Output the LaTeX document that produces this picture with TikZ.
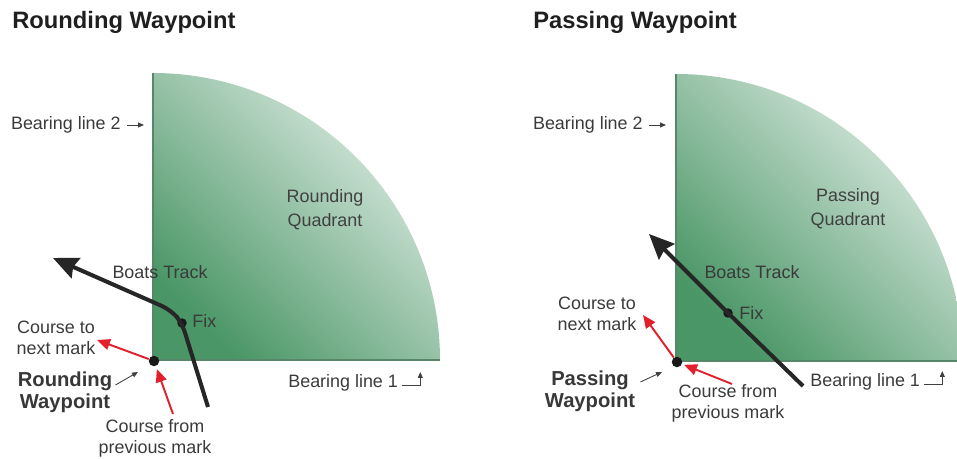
\documentclass[tikz,border=0pt]{standalone}
\usepackage{fontspec}
\setmainfont{Liberation Sans}
\usetikzlibrary{arrows.meta,positioning,calc}
\definecolor{quaddark}{RGB}{74,150,102}
\definecolor{quadmid}{RGB}{172,212,188}
\definecolor{quadlight}{RGB}{226,238,231}
\definecolor{quadedge}{RGB}{88,134,104}
\definecolor{txtgray}{RGB}{58,58,58}
\definecolor{markred}{RGB}{226,32,44}

\begin{document}
\begin{tikzpicture}[x=0.02cm, y=-0.02cm,
  title/.style={font=\fontsize{13.5}{16}\selectfont\bfseries, text=black!88, inner sep=0pt},
  lab/.style={font=\fontsize{10.2}{12}\selectfont, text=txtgray, inner sep=0pt, align=center},
  quadlab/.style={lab, font=\fontsize{10.2}{13.6}\selectfont, text=black!75},
  wplab/.style={font=\fontsize{11.5}{12.5}\selectfont\bfseries, text=black!78, inner sep=0pt, align=center},
  quad/.style={bottom color=quaddark, middle color=quadmid, top color=quadlight, shading angle=-45},
  track/.style={line width=2.3pt, black!85, line join=round},
  trackarr/.style={track, -{Stealth[length=5mm, width=4.4mm, inset=0.6mm]}},
  course/.style={line width=1.1pt, markred, -{Triangle[length=2.6mm, width=2.2mm]}},
  ptr/.style={line width=0.5pt, black!75, -{Triangle[length=1.2mm, width=1mm]}},
  wpdot/.style={circle, fill=black!90, inner sep=0pt, minimum size=2.1mm},
  fixdot/.style={circle, fill=black!90, inner sep=0pt, minimum size=1.9mm}]
  \useasboundingbox (0,0) rectangle (957,459);
  % (a) rounding waypoint
  \node[title, anchor=base west] (titleR) at (12,29) {Rounding Waypoint};
  \shade[quad] (153,360) -- (153,73) arc[start angle=-90, end angle=0, radius=287] -- cycle;
  \draw[quadedge, line width=0.7pt] (153,73) -- (153,360) -- (440,360);
  \node[lab, anchor=east] (bl2R) at (121,125) {Bearing line 2};
  \draw[ptr] ($(bl2R.east)+(6,0)$) -- ++(17,0);
  \node[quadlab] (quadR) at (325,210) {Rounding\\Quadrant};
  \node[lab, anchor=west] (bl1R) at (288,383) {Bearing line 1};
  \draw[ptr] ($(bl1R.east)+(4,2)$) -| ($(bl1R.east)+(22,-11)$);
  \node[fixdot] (fixR) at (182,323) {};
  \coordinate (trkRs) at (208,407);
  \coordinate (bendR) at (171,310);
  \coordinate (trkRe) at (53,258);
  \draw[trackarr, rounded corners=2mm] (trkRs) -- (fixR.center) -- (bendR) -- (trkRe);
  \node[lab] (trackRlab) at (160,272) {Boats Track};
  \node[lab, anchor=west] (fixRlab) at (192,321) {Fix};
  \node[wpdot] (wpR) at (154,361) {};
  \coordinate (nextR) at (97,340);
  \coordinate (prevR) at (173,414);
  \draw[course] (wpR) -- (nextR);
  \draw[course, shorten >=0.6mm] (prevR) -- (wpR);
  \node[lab] (nextRlab) at (56,338) {Course to\\next mark};
  \node[wplab] (wpRlab) at (65,392) {Rounding\\Waypoint};
  \coordinate (ptrR) at (138,372);
  \draw[ptr] ($(wpRlab.east)+(3,-7)$) -- (ptrR);
  \node[lab] (prevRlab) at (155,438) {Course from\\previous mark};
  % (b) passing waypoint
  \node[title, anchor=base west] (titleP) at (533,29) {Passing Waypoint};
  \shade[quad] (676,361) -- (676,74) arc[start angle=-90, end angle=0, radius=287] -- cycle;
  \draw[quadedge, line width=0.7pt] (676,74) -- (676,361) -- (963,361);
  \node[lab, anchor=east] (bl2P) at (643,125) {Bearing line 2};
  \draw[ptr] ($(bl2P.east)+(6,0)$) -- ++(17,0);
  \node[quadlab] (quadP) at (848,209) {Passing\\Quadrant};
  \node[lab, anchor=west] (bl1P) at (810,382) {Bearing line 1};
  \draw[ptr] ($(bl1P.east)+(4,2)$) -| ($(bl1P.east)+(22,-11)$);
  \node[fixdot] (fixP) at (728,313) {};
  \coordinate (trkPs) at (803,386);
  \coordinate (trkPe) at (649,234);
  \draw[trackarr] (trkPs) -- (fixP.center) -- (trkPe);
  \node[lab] (trackPlab) at (752,272) {Boats Track};
  \node[lab, anchor=west] (fixPlab) at (739,313) {Fix};
  \node[wpdot] (wpP) at (677,362) {};
  \coordinate (nextP) at (643,315);
  \coordinate (prevP) at (732,384);
  \draw[course] (wpP) -- (nextP);
  \draw[course, shorten >=0.4mm] (prevP) -- (wpP);
  \node[lab] (nextPlab) at (597,314) {Course to\\next mark};
  \node[wplab] (wpPlab) at (590,391) {Passing\\Waypoint};
  \coordinate (ptrP) at (662,372);
  \draw[ptr] ($(wpPlab.east)+(5,-9)$) -- (ptrP);
  \node[lab] (prevPlab) at (728,403) {Course from\\previous mark};
\end{tikzpicture}
\end{document}
